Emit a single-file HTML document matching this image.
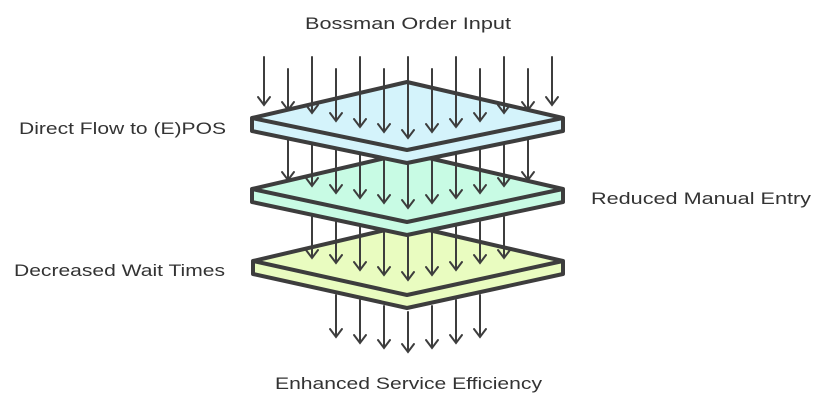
<!DOCTYPE html>
<html><head><meta charset="utf-8"><style>
html,body{margin:0;padding:0;background:#fff;}
svg{display:block;}
text{font-family:"Liberation Sans",sans-serif;font-size:17px;fill:#333;}
</style></head><body>
<svg width="816" height="405" viewBox="0 0 816 405" xmlns="http://www.w3.org/2000/svg">
<g stroke="#3d3d3d" stroke-width="4" stroke-linejoin="round">
<!-- bottom plate -->
<polygon points="253,261 407,225 563,261 563,274 407,308 253,274" fill="#e9fcc0"/>
<polyline points="253,261 407,295 563,261" fill="none"/>
<!-- middle plate -->
<polygon points="252,189 407,153 563,189 563,202 407,235 252,202" fill="#c8fbe4"/>
<polyline points="252,189 407,222 563,189" fill="none"/>
<!-- top plate -->
<polygon points="252,118 407,82 563,118 563,131 407,163 252,131" fill="#d4f3fb"/>
<polyline points="252,118 407,150 563,118" fill="none"/>
</g>
<g stroke="#3d3d3d" stroke-width="2" fill="none" stroke-linecap="round">
<path d="M264 57V105M258 97L264 105L270 97"/>
<path d="M288 69V110M282 102L288 110L294 102"/>
<path d="M312 57V113M306 105L312 113L318 105"/>
<path d="M336 69V121M330 113L336 121L342 113"/>
<path d="M360 57V127M354 119L360 127L366 119"/>
<path d="M384 69V132M378 124L384 132L390 124"/>
<path d="M408 57V138M402 130L408 138L414 130"/>
<path d="M432 69V132M426 124L432 132L438 124"/>
<path d="M456 57V127M450 119L456 127L462 119"/>
<path d="M480 69V121M474 113L480 121L486 113"/>
<path d="M504 57V113M498 105L504 113L510 105"/>
<path d="M528 69V110M522 102L528 110L534 102"/>
<path d="M552 57V105M546 97L552 105L558 97"/>

<path d="M288 140V180M282 172L288 180L294 172"/>
<path d="M312 145V186M306 178L312 186L318 178"/>
<path d="M336 150V193M330 185L336 193L342 185"/>
<path d="M360 155V198M354 190L360 198L366 190"/>
<path d="M384 160V203M378 195L384 203L390 195"/>
<path d="M408 165V208M402 200L408 208L414 200"/>
<path d="M432 160V203M426 195L432 203L438 195"/>
<path d="M456 155V198M450 190L456 198L462 190"/>
<path d="M480 150V193M474 185L480 193L486 185"/>
<path d="M504 145V186M498 178L504 186L510 178"/>
<path d="M528 140V180M522 172L528 180L534 172"/>

<path d="M312 217V258M306 250L312 258L318 250"/>
<path d="M336 222V263M330 255L336 263L342 255"/>
<path d="M360 227V270M354 262L360 270L366 262"/>
<path d="M384 232V275M378 267L384 275L390 267"/>
<path d="M408 237V280M402 272L408 280L414 272"/>
<path d="M432 232V275M426 267L432 275L438 267"/>
<path d="M456 227V270M450 262L456 270L462 262"/>
<path d="M480 222V263M474 255L480 263L486 255"/>
<path d="M504 217V258M498 250L504 258L510 250"/>

<path d="M336 295V337M330 329L336 337L342 329"/>
<path d="M360 300V343M354 335L360 343L366 335"/>
<path d="M384 306V348M378 340L384 348L390 340"/>
<path d="M408 312V352M402 344L408 352L414 344"/>
<path d="M432 306V348M426 340L432 348L438 340"/>
<path d="M456 300V343M450 335L456 343L462 335"/>
<path d="M480 295V337M474 329L480 337L486 329"/>
</g>
<text x="305" y="29" textLength="206" lengthAdjust="spacingAndGlyphs">Bossman Order Input</text>
<text x="19" y="134" textLength="207" lengthAdjust="spacingAndGlyphs">Direct Flow to (E)POS</text>
<text x="591" y="204" textLength="220" lengthAdjust="spacingAndGlyphs">Reduced Manual Entry</text>
<text x="14" y="276" textLength="211" lengthAdjust="spacingAndGlyphs">Decreased Wait Times</text>
<text x="275" y="389" textLength="267" lengthAdjust="spacingAndGlyphs">Enhanced Service Efficiency</text>
</svg>
</body></html>
